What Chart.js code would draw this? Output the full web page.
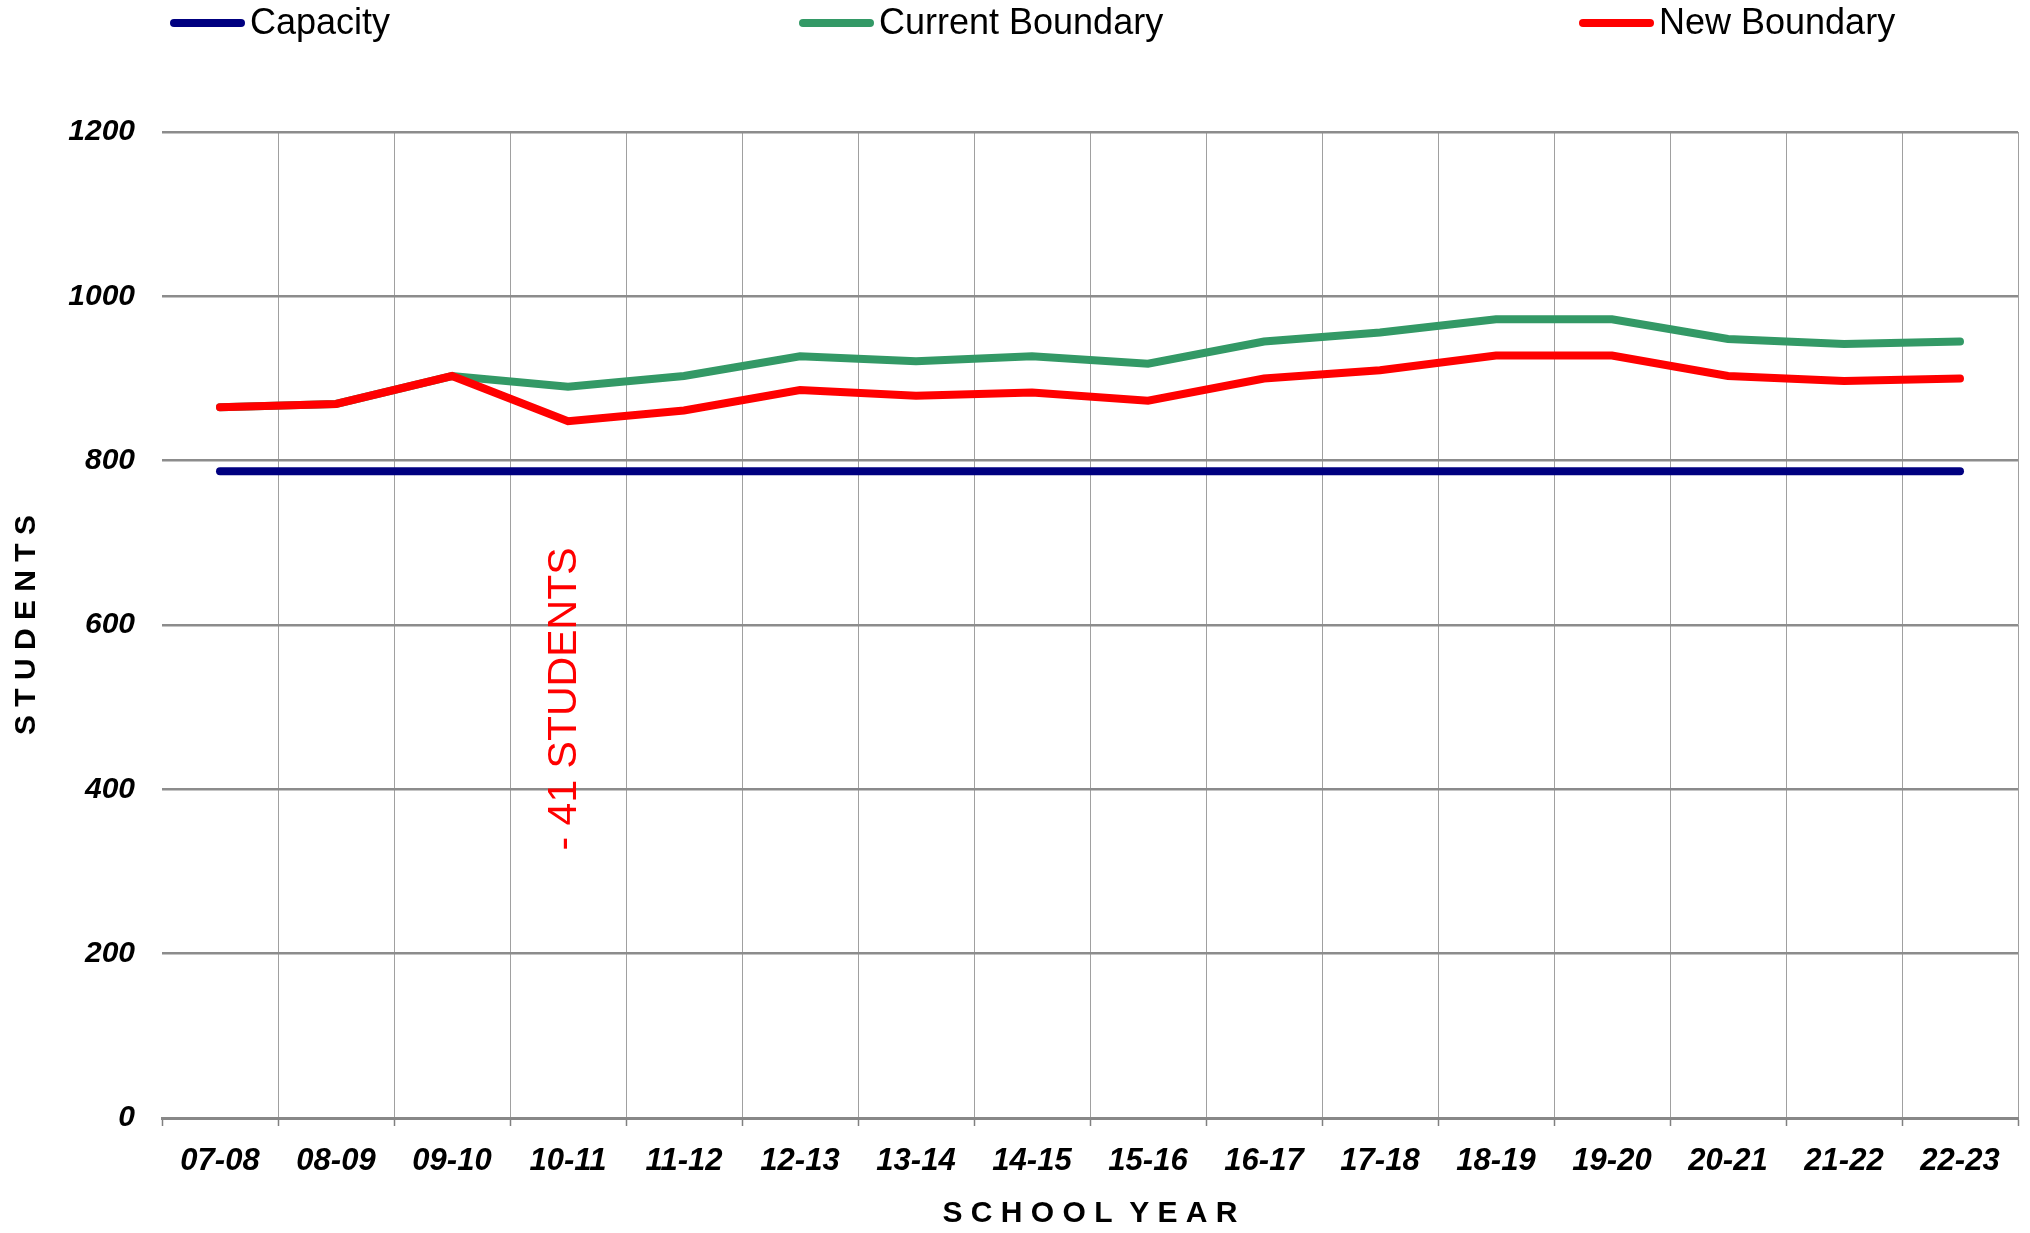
<!DOCTYPE html>
<html>
<head>
<meta charset="utf-8">
<script src="https://cdn.jsdelivr.net/npm/chart.js@4"></script>
<style>
  html, body { margin: 0; padding: 0; background: #ffffff; }
  #wrap { width: 2030px; height: 1233px; }
</style>
</head>
<body>
<div id="wrap"><canvas id="c" width="2030" height="1233"></canvas></div>
<script>
const categories = ['07-08','08-09','09-10','10-11','11-12','12-13','13-14','14-15','15-16','16-17','17-18','18-19','19-20','20-21','21-22','22-23'];
const capacity = [787,787,787,787,787,787,787,787,787,787,787,787,787,787,787,787];
const currentBoundary = [865,869,903,890,903,927,921,927,918,945,956,972,972,948,942,945];
const newBoundary = [865,869,903,848,861,886,879,883,873,900,910,928,928,903,897,900];
const yTicks = [0,200,400,600,800,1000,1200];
const seriesNames = ['Capacity','Current Boundary','New Boundary'];
const seriesColors = ['#000080','#339966','#FF0000'];
const annotationText = '- 41 STUDENTS';
const annotationCategory = 3;
const annotationValue = 510;

const FONT = '"Liberation Sans", Arial, Helvetica, sans-serif';

const legendPlugin = {
  id: 'customLegend',
  afterDraw(chart) {
    const ctx = chart.ctx;
    const starts = [170, 799, 1579];
    const y = 23;
    ctx.save();
    chart.data.datasets.forEach((ds, i) => {
      const x = starts[i];
      ctx.beginPath();
      ctx.lineCap = 'round';
      ctx.lineWidth = 8;
      ctx.strokeStyle = ds.borderColor;
      ctx.moveTo(x + 4, y);
      ctx.lineTo(x + 71, y);
      ctx.stroke();
      ctx.fillStyle = '#000000';
      ctx.font = '36px ' + FONT;
      ctx.textAlign = 'left';
      ctx.textBaseline = 'middle';
      ctx.fillText(ds.label, x + 80, y + 1);
    });
    ctx.restore();
  }
};

const annotationPlugin = {
  id: 'rotatedNote',
  afterDatasetsDraw(chart) {
    const ctx = chart.ctx;
    const x = chart.scales.x.getPixelForValue(annotationCategory) - 3;
    const y = chart.scales.y.getPixelForValue(annotationValue);
    ctx.save();
    ctx.translate(x, y);
    ctx.rotate(-Math.PI / 2);
    ctx.fillStyle = '#FF0000';
    ctx.font = '41px ' + FONT;
    ctx.textAlign = 'center';
    ctx.textBaseline = 'middle';
    ctx.fillText(annotationText, 0, 0);
    ctx.restore();
  }
};

const seriesData = [capacity, currentBoundary, newBoundary];
const drawOrder = [2, 1, 0];

new Chart(document.getElementById('c'), {
  type: 'line',
  data: {
    labels: categories,
    datasets: seriesNames.map((name, i) => ({
      label: name,
      data: seriesData[i],
      borderColor: seriesColors[i],
      backgroundColor: seriesColors[i],
      borderWidth: 8,
      borderCapStyle: 'round',
      borderJoinStyle: 'miter',
      pointRadius: 0,
      pointHoverRadius: 0,
      tension: 0,
      fill: false,
      order: drawOrder[i]
    }))
  },
  options: {
    responsive: false,
    animation: false,
    events: [],
    layout: { padding: { left: 0, right: 12, top: 132, bottom: 0 } },
    plugins: {
      legend: { display: false },
      tooltip: { enabled: false },
      title: { display: false }
    },
    scales: {
      x: {
        type: 'category',
        offset: true,
        grid: {
          offset: true,
          display: true,
          drawOnChartArea: true,
          drawTicks: true,
          tickLength: 8,
          lineWidth: 1,
          color: (c) => (c.index === 0 ? 'rgba(0,0,0,0)' : '#a0a0a0'),
          tickColor: '#808080',
          tickWidth: 1.5
        },
        border: { display: true, color: '#888888', width: 3 },
        ticks: {
          color: '#000000',
          font: { family: FONT, size: 31, style: 'italic', weight: 'bold', lineHeight: 1.2 },
          padding: 17,
          maxRotation: 0,
          autoSkip: false
        },
        title: {
          display: true,
          text: 'S C H O O L  Y E A R',
          color: '#000000',
          font: { family: FONT, size: 30, weight: 'bold', lineHeight: 1.2 },
          padding: { top: 0, bottom: 1 }
        },
        afterFit: (scale) => { scale.height = 115; }
      },
      y: {
        min: 0,
        max: 1200,
        afterBuildTicks: (scale) => { scale.ticks = yTicks.map(v => ({ value: v })); },
        grid: {
          display: true,
          drawTicks: false,
          lineWidth: 2.5,
          color: '#8c8c8c'
        },
        border: { display: false },
        ticks: {
          color: '#000000',
          font: { family: FONT, size: 30, style: 'italic', weight: 'bold', lineHeight: 1.2 },
          padding: 27,
          callback: (v) => String(v)
        },
        title: {
          display: true,
          text: 'S T U D E N T S',
          color: '#000000',
          font: { family: FONT, size: 30, weight: 'bold', lineHeight: 1.2 },
          padding: { top: 9, bottom: 0 }
        },
        afterFit: (scale) => { scale.width = 162; }
      }
    }
  },
  plugins: [annotationPlugin, legendPlugin]
});
</script>
</body>
</html>
